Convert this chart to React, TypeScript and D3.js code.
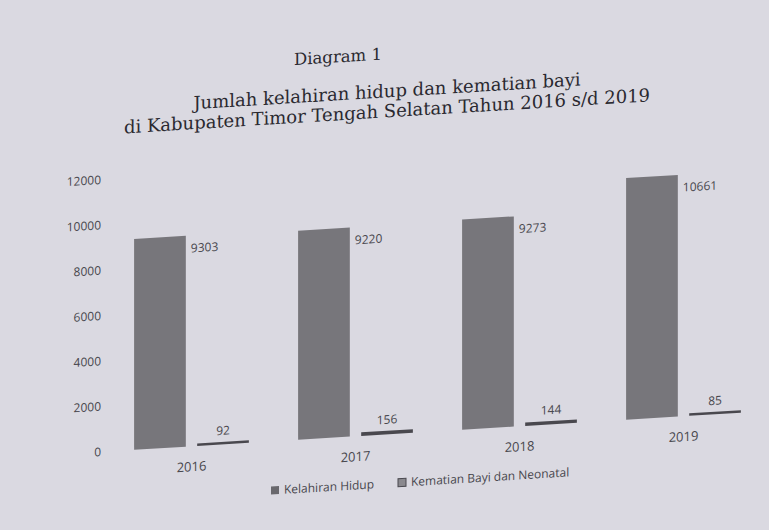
import React, { useEffect } from 'react';
import * as d3 from 'd3';

// data
const years = ['2016', '2017', '2018', '2019'];
const series = ['Kelahiran Hidup', 'Kematian Bayi dan Neonatal'];
const kelahiranHidup = [9303, 9220, 9273, 10661];
const kematianBayi = [92, 156, 144, 85];
const yTicks = [0, 2000, 4000, 6000, 8000, 10000, 12000];

const W = 769;
const H = 530;
const paper = '#dad9e1';
const ink = '#48474d';
const barFill = ['#77767b', '#49484e'];

const App = () => {
  useEffect(() => {
    document.body.style.margin = '0';
  }, []);

  const base = 458;
  const y = d3.scaleLinear().domain([0, 12000]).range([base, 186]);

  const x0 = d3.scaleBand().domain(years).range([109.5, 765.5]).paddingInner(0.3).paddingOuter(0.15);
  const x1 = d3.scaleBand().domain(series).range([0, x0.bandwidth()]).paddingInner(0.18);

  const values = [kelahiranHidup, kematianBayi];
  const axisFont = '"Open Sans", "Liberation Sans", sans-serif';
  const titleFont = '"DejaVu Serif", serif';

  return (
    <svg width={W} height={H} style={{ display: 'block' }}>
      <rect width={W} height={H} fill={paper} />
      {/* the photo is taken at an angle, rows climb to the right */}
      <g transform="skewY(-3.5)">
        <text x={338} y={83} textAnchor="middle" fontFamily={titleFont} fontSize={16.5} fill="#2a2930">
          Diagram 1
        </text>
        <text x={387} y={121} textAnchor="middle" fontFamily={titleFont} fontSize={18} fill="#2a2930">
          Jumlah kelahiran hidup dan kematian bayi
        </text>
        <text x={387} y={141} textAnchor="middle" fontFamily={titleFont} fontSize={18} fill="#2a2930">
          di Kabupaten Timor Tengah Selatan Tahun 2016 s/d 2019
        </text>

        {yTicks.map((t) => (
          <text key={t} x={101} y={y(t)} dy="0.35em" textAnchor="end" fontFamily={axisFont} fontSize={12} fill={ink}>
            {t}
          </text>
        ))}

        {years.map((yr, i) => (
          <g key={yr} transform={`translate(${x0(yr)},0)`}>
            {series.map((s, k) => {
              const v = values[k][i];
              const bx = x1(s) as number;
              const bw = x1.bandwidth();
              const top = y(v);
              const h = Math.max(base - top, 2.5);
              return (
                <g key={s}>
                  <rect x={bx} y={base - h} width={bw} height={h} fill={barFill[k]} />
                  {k === 0 ? (
                    <text x={bx + bw + 5} y={top + 17} fontFamily={axisFont} fontSize={12} fill={ink}>
                      {v}
                    </text>
                  ) : (
                    <text x={bx + bw / 2} y={base - h - 7} textAnchor="middle" fontFamily={axisFont} fontSize={12} fill={ink}>
                      {v}
                    </text>
                  )}
                </g>
              );
            })}
            <text x={x0.bandwidth() / 2} y={base + 25} textAnchor="middle" fontFamily={axisFont} fontSize={13} fill={ink}>
              {yr}
            </text>
          </g>
        ))}

        <g transform="translate(271,507)">
          <rect x={0} y={-4} width={8} height={8} fill="#69686d" />
          <text x={13} y={0} dy="0.35em" fontFamily={axisFont} fontSize={12} fill={ink}>
            {series[0]}
          </text>
          <rect x={127} y={-4} width={8} height={8} fill="#8a898e" stroke="#49484e" strokeWidth={1} />
          <text x={140} y={0} dy="0.35em" fontFamily={axisFont} fontSize={12} fill={ink}>
            {series[1]}
          </text>
        </g>
      </g>
    </svg>
  );
};

export default App;
